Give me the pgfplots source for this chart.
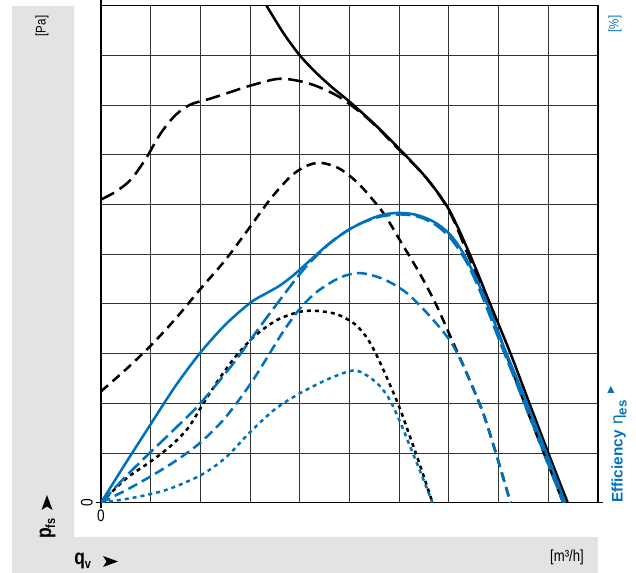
\documentclass[border=0pt]{standalone}
\usepackage{pgfplots}
\pgfplotsset{compat=1.18}
\usepackage{fontspec}
\setmainfont{Liberation Sans}
\newfontfamily\cond[FakeStretch=0.82]{Liberation Sans}
\newfontfamily\dejavu{DejaVu Sans}
\definecolor{zblue}{RGB}{0,114,188}
\definecolor{zgray}{RGB}{227,227,227}

\begin{document}
\begin{tikzpicture}[x=0.75pt,y=0.75pt]
\useasboundingbox (0,0) rectangle (636,573);
\fill[zgray] (12,0) rectangle (74,567);
\fill[zgray] (12,0) rectangle (598,36);
\begin{axis}[
  at={(75.75pt,52.725pt)}, anchor=south west,
  scale only axis, width=372.75pt, height=372.75pt,
  xmin=0, xmax=10, ymin=0, ymax=10,
  xtick={1,...,9}, ytick={1,...,9},
  xticklabels={}, yticklabels={},
  major tick length=0pt,
  grid=major, grid style={black!80, line width=0.7pt},
  axis line style={black, line width=0.9pt},
  extra x ticks={0}, extra y ticks={0},
  extra x tick labels={0}, extra y tick labels={0},
  extra x tick style={grid=none, major tick length=4pt, tick align=outside,
     tick style={black, line width=0.8pt},
     xticklabel style={font=\cond\fontsize{12.5}{12.5}\selectfont, inner sep=1pt}},
  extra y tick style={grid=none, major tick length=4pt, tick align=outside,
     tick style={black, line width=0.8pt},
     yticklabel style={rotate=90, anchor=south, font=\cond\fontsize{12.5}{12.5}\selectfont, inner sep=2pt}},
  clip=true,
]
% black solid
\addplot[black, line width=1.9pt, smooth] coordinates {
 (3.33,10.0) (3.67,9.45) (4.0,9.0) (4.34,8.64) (4.67,8.34) (5.0,8.07)
 (5.5,7.62) (6.02,7.10) (6.55,6.53) (7.0,5.9) (7.42,5.0) (7.83,4.0) (8.24,3.0)
 (8.62,2.0) (9.0,1.0) (9.39,0.0)};
% black long dashed
\addplot[black, line width=1.9pt, smooth, dash pattern=on 11pt off 5pt] coordinates {
 (0,6.1) (0.3,6.26) (0.6,6.5) (0.9,6.92) (1.2,7.43) (1.5,7.8) (1.8,8.01) (2.2,8.13)
 (2.6,8.26) (3.0,8.39) (3.6,8.53) (4.2,8.43) (4.8,8.16) (5.4,7.7) (6.0,7.1)
 (6.55,6.53) (7.0,5.88) (7.38,5.0) (7.78,4.0) (8.15,3.0) (8.52,2.0) (8.91,1.0) (9.3,0.0)};
% black medium dashed
\addplot[black, line width=1.9pt, smooth, dash pattern=on 7pt off 4.5pt] coordinates {
 (0,2.24) (0.5,2.68) (1.0,3.16) (1.5,3.7) (2.0,4.3) (2.5,4.88) (3.0,5.55)
 (3.4,6.1) (3.8,6.55) (4.1,6.76) (4.41,6.84) (4.8,6.72) (5.2,6.4) (5.68,5.83) (6.05,5.22)
 (6.42,4.6) (6.75,3.97) (7.05,3.3) (7.36,2.6) (7.69,1.8) (7.96,0.95) (8.24,0.0)};
% black dotted
\addplot[black, line width=1.9pt, smooth, dash pattern=on 3pt off 3pt] coordinates {
 (0,0) (0.5,0.48) (1.0,0.83) (1.4,1.14) (1.75,1.5) (2.05,1.98) (2.35,2.45)
 (2.7,2.93) (3.1,3.36) (3.55,3.68) (4.0,3.84) (4.34,3.86) (4.75,3.79) (5.1,3.6)
 (5.32,3.36) (5.5,3.06) (5.75,2.52) (6.0,1.93) (6.22,1.32) (6.45,0.66) (6.67,0.0)};
% blue solid
\addplot[zblue, line width=1.9pt, smooth] coordinates {
 (0,0) (0.5,0.8) (1.0,1.58) (1.5,2.35) (2.0,3.02) (2.5,3.58) (3.0,4.02) (3.3,4.2)
 (3.6,4.37) (3.9,4.6) (4.2,4.87) (4.6,5.22) (5.0,5.5) (5.4,5.7) (5.7,5.8) (6.02,5.83)
 (6.35,5.79) (6.7,5.65) (7.02,5.4) (7.3,5.0) (7.69,4.2) (8.12,3.1) (8.55,2.05)
 (8.95,1.03) (9.34,0.0)};
% blue long dashed
\addplot[zblue, line width=1.9pt, smooth, dash pattern=on 11pt off 4pt] coordinates {
 (0,0) (0.5,0.53) (1.0,1.02) (1.5,1.5) (2.0,2.0) (2.66,2.8) (3.33,3.72) (4.0,4.6) (4.35,4.98)
 (4.7,5.3) (5.14,5.58) (5.6,5.75) (6.02,5.8) (6.4,5.75) (6.75,5.58) (7.05,5.3) (7.35,4.85)
 (7.65,4.2) (8.08,3.1) (8.5,2.05) (8.9,1.03) (9.3,0.0)};
% blue medium dashed
\addplot[zblue, line width=1.9pt, smooth, dash pattern=on 7.5pt off 4pt] coordinates {
 (0,0) (0.5,0.25) (1.0,0.53) (1.5,0.84) (2.0,1.21) (2.5,1.71) (3.0,2.38) (3.33,2.9)
 (3.67,3.45) (4.0,3.9) (4.34,4.24) (4.81,4.53) (5.21,4.62) (5.68,4.5) (6.15,4.22) (6.62,3.75)
 (7.05,3.22) (7.36,2.6) (7.69,1.8) (7.96,0.95) (8.24,0.0)};
% blue dotted
\addplot[zblue, line width=1.9pt, smooth, dash pattern=on 3pt off 3pt] coordinates {
 (0,0) (0.65,0.1) (1.32,0.26) (2.0,0.55) (2.5,0.9) (3.0,1.42) (3.5,1.88)
 (4.0,2.2) (4.6,2.5) (5.08,2.66) (5.35,2.56) (5.6,2.36) (5.81,2.07) (6.02,1.62)
 (6.22,1.13) (6.45,0.56) (6.67,0.0)};
\end{axis}
% texts
\node[rotate=90, font=\cond\fontsize{10.5}{10.5}\selectfont, inner sep=0pt] at (42,547) {[Pa]};
\node[rotate=90, text=zblue, font=\cond\fontsize{10.5}{10.5}\selectfont, inner sep=0pt] at (615,549) {[\%]};
\node[font=\cond\fontsize{12}{12}\selectfont, inner sep=0pt] at (567,16) {[m³/h]};
% q_v
\node[font=\cond\bfseries\fontsize{16}{16}\selectfont, inner sep=0pt, anchor=west] at (74,12) {q\raisebox{-3pt}{\fontsize{10}{10}\selectfont v}};
\fill[black] (103,17) -- (118,11.5) -- (103,6) -- (106.5,11.5) -- cycle;
% p_fs
\node[rotate=90, font=\cond\bfseries\fontsize{16}{16}\selectfont, inner sep=0pt, anchor=west] at (47.5,34) {p\raisebox{-3pt}{\fontsize{10}{10}\selectfont fs}};
\fill[black] (41.5,63) -- (47,78) -- (52.5,63) -- (47,66.5) -- cycle;
% Efficiency
\node[rotate=90, text=zblue, inner sep=0pt, anchor=west] at (617,70)
  {\bfseries\fontsize{11.5}{11.5}\selectfont Efficiency\hspace{4pt}\mdseries\fontsize{13}{13}\selectfont η\raisebox{-3pt}{\bfseries\fontsize{10}{10}\selectfont es}\hspace{5pt}\raisebox{7pt}{\dejavu\fontsize{7}{7}\selectfont ▶}};
\end{tikzpicture}
\end{document}
